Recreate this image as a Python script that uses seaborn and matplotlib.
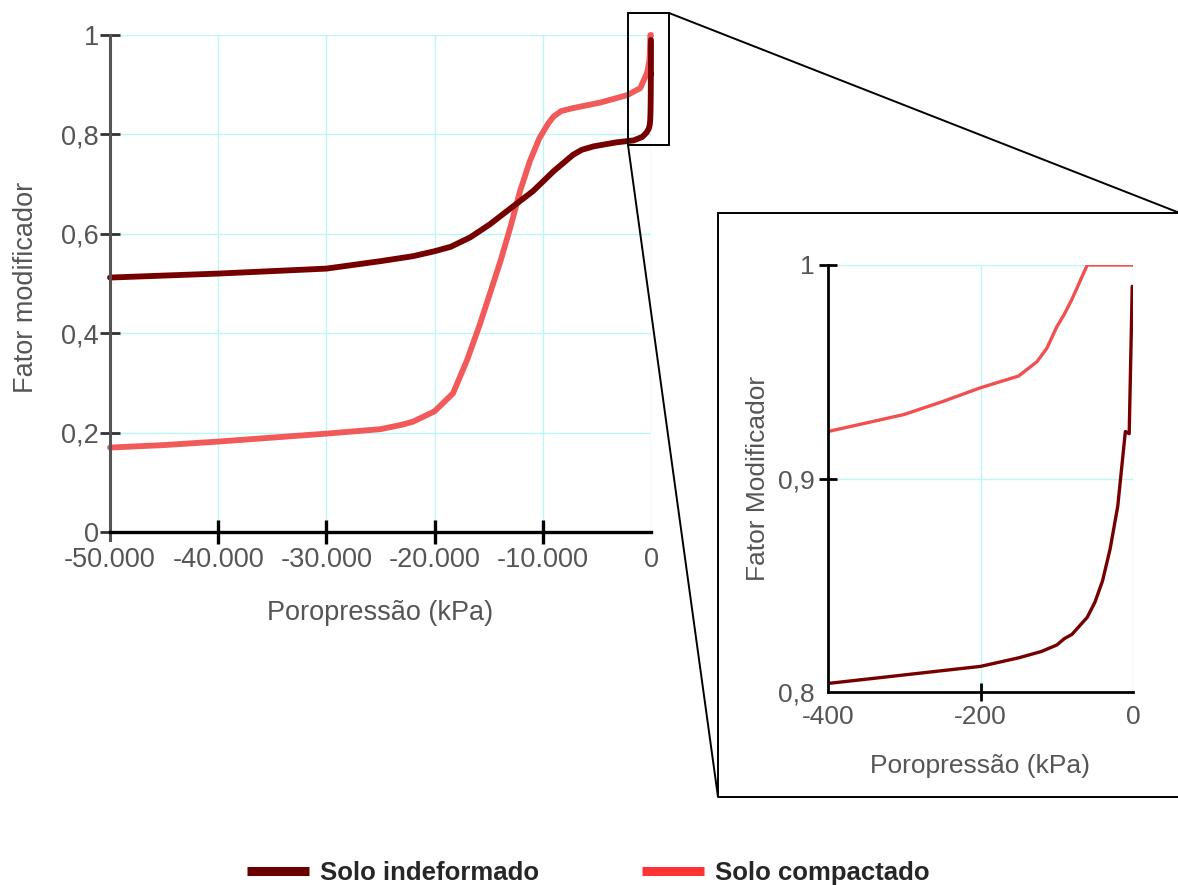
import matplotlib
matplotlib.use("Agg")
import matplotlib.pyplot as plt
import seaborn as sns
import numpy as np
import pandas as pd
from matplotlib.lines import Line2D
from matplotlib.patches import Rectangle
from matplotlib.ticker import FuncFormatter, FixedLocator

# ---------------- data ----------------
und_x = [-50000, -45000, -40000, -35000, -30000, -25000, -22000, -20000, -18500, -16700,
         -14900, -12700, -10900, -9000, -7200, -6400, -5300, -3200, -1600, -800, -400, -350, -300,
         -250, -200, -150, -120, -100, -90, -80, -70, -60, -50, -40, -30, -20, -10, -5, -1]
und_y = [0.512, 0.516, 0.520, 0.525, 0.530, 0.545, 0.555, 0.565, 0.574, 0.593,
         0.619, 0.656, 0.686, 0.726, 0.759, 0.769, 0.776, 0.784, 0.788, 0.795, 0.804, 0.806, 0.808,
         0.810, 0.812, 0.816, 0.819, 0.822, 0.825, 0.827, 0.831, 0.835, 0.842, 0.852, 0.867, 0.887,
         0.922, 0.921, 0.990]

comp_x = [-50000, -45000, -40000, -35000, -30000, -25000, -23000, -22000, -20000, -18300,
          -17000, -15800, -14900, -13900, -13000, -12100, -11200, -10300, -9500, -9000, -8300,
          -7200, -4700, -2200, -1000, -400, -350, -300, -250, -200, -150, -126, -113, -100,
          -90, -80, -70, -60, 0]
comp_y = [0.170, 0.175, 0.182, 0.190, 0.198, 0.207, 0.216, 0.222, 0.243, 0.279,
          0.346, 0.419, 0.479, 0.546, 0.613, 0.686, 0.746, 0.793, 0.822, 0.836, 0.847,
          0.853, 0.864, 0.879, 0.893, 0.922, 0.926, 0.930, 0.936, 0.9425, 0.948, 0.9547, 0.961, 0.971,
          0.977, 0.984, 0.992, 1.0, 1.0]

series_names = ["Solo indeformado", "Solo compactado"]
main_xticks = [-50000, -40000, -30000, -20000, -10000, 0]
main_yticks = [0, 0.2, 0.4, 0.6, 0.8, 1.0]
inset_xticks = [-400, -200, 0]
inset_yticks = [0.8, 0.9, 1.0]

# ---------------- style ----------------
sns.set_theme(style="white")
plt.rcParams["font.family"] = ["Liberation Sans", "DejaVu Sans"]

DARK = "#760000"
RED = "#f25050"
GRID = "#bdf6f6"
TXT = "#555555"

W, H = 1178, 885
fig = plt.figure(figsize=(W / 100, H / 100), dpi=100)

def px(x0, y0, x1, y1):
    return [x0 / W, 1 - y1 / H, (x1 - x0) / W, (y1 - y0) / H]

df_und = pd.DataFrame({"x": und_x, "y": und_y})
df_comp = pd.DataFrame({"x": comp_x, "y": comp_y})

def fmt_num(v, pos=None):
    if abs(v - round(v)) < 1e-9:
        s = f"{int(round(v)):,}".replace(",", ".")
    else:
        s = f"{v:g}".replace(".", ",")
    return s

# ---------------- main axes ----------------
ax = fig.add_axes(px(110, 35, 651, 540))
ax.set_xlim(-50000, 0)
ax.set_ylim(-0.016, 1.0)
sns.lineplot(data=df_comp, x="x", y="y", ax=ax, color=RED, lw=4.2, sort=False,
             estimator=None, alpha=0.95, clip_on=False, solid_capstyle="round")
sns.lineplot(data=df_und, x="x", y="y", ax=ax, color=DARK, lw=4.2, sort=False,
             estimator=None, clip_on=False, solid_capstyle="round")

ax.xaxis.set_major_locator(FixedLocator(main_xticks))
ax.yaxis.set_major_locator(FixedLocator(main_yticks))
ax.xaxis.set_major_formatter(FuncFormatter(fmt_num))
ax.yaxis.set_major_formatter(FuncFormatter(fmt_num))
for v in main_xticks[1:]:
    ax.plot([v, v], [0, 1], color=GRID, lw=1, zorder=0)
for v in main_yticks[1:]:
    ax.plot([-50000, 0], [v, v], color=GRID, lw=1, zorder=0)
for s in ["top", "right"]:
    ax.spines[s].set_visible(False)
ax.spines["bottom"].set_position(("data", 0))
ax.spines["bottom"].set_color("black")
ax.spines["bottom"].set_linewidth(2.4)
ax.spines["left"].set_color("#555555")
ax.spines["left"].set_linewidth(2.2)
ax.tick_params(axis="x", direction="inout", length=17, width=2.4, color="black",
               labelsize=19.5, labelcolor=TXT, pad=2, bottom=True)
ax.tick_params(axis="y", direction="inout", length=14, width=2, color="#333333",
               labelsize=19.5, labelcolor=TXT, pad=1, left=True)
for i, t in enumerate(ax.xaxis.get_major_ticks()):
    if main_xticks[i] in (-50000, 0):
        t.tick1line.set_visible(False)
ax.set_xlabel("Poropressão (kPa)", fontsize=19.5, color=TXT, labelpad=20)
ax.set_ylabel("Fator modificador", fontsize=19.5, color=TXT, labelpad=16)
ax.set_facecolor("none")

# ---------------- inset axes ----------------
ax2 = fig.add_axes(px(828, 265, 1133, 692))
ax2.set_xlim(-400, 0)
ax2.set_ylim(0.8, 1.0)
sns.lineplot(data=df_comp, x="x", y="y", ax=ax2, color=RED, lw=2.4, sort=False,
             estimator=None, clip_on=True)
sns.lineplot(data=df_und, x="x", y="y", ax=ax2, color=DARK, lw=2.4, sort=False,
             estimator=None, clip_on=True)
ax2.xaxis.set_major_locator(FixedLocator(inset_xticks))
ax2.yaxis.set_major_locator(FixedLocator(inset_yticks))
ax2.xaxis.set_major_formatter(FuncFormatter(fmt_num))
ax2.yaxis.set_major_formatter(FuncFormatter(fmt_num))
for v in [-200, 0]:
    ax2.plot([v, v], [0.8, 1.0], color=GRID, lw=1, zorder=0)
for v in [0.9, 1.0]:
    ax2.plot([-400, 0], [v, v], color=GRID, lw=1, zorder=0)
for s in ["top", "right"]:
    ax2.spines[s].set_visible(False)
for s in ["left", "bottom"]:
    ax2.spines[s].set_color("black")
    ax2.spines[s].set_linewidth(2)
ax2.tick_params(axis="both", direction="inout", length=13, width=2, color="black",
                labelsize=19, labelcolor=TXT, pad=3, bottom=True, left=True)
for i, t in enumerate(ax2.xaxis.get_major_ticks()):
    if inset_xticks[i] in (-400, 0):
        t.tick1line.set_visible(False)
ax2.yaxis.get_major_ticks()[0].tick1line.set_visible(False)
ax2.set_xlabel("Poropressão (kPa)", fontsize=19, color=TXT, labelpad=18)
ax2.set_ylabel("Fator Modificador", fontsize=19, color=TXT, labelpad=6)
ax2.set_facecolor("none")

# ---------------- zoom box and connectors ----------------
fig.add_artist(Rectangle((628 / W, 1 - 145 / H), 41 / W, 132 / H, transform=fig.transFigure,
                         fill=False, ec="black", lw=1.4))
fig.add_artist(Rectangle((718 / W, 1 - 797 / H), 480 / W, 584 / H, transform=fig.transFigure,
                         fill=False, ec="black", lw=1.4, clip_on=False))
fig.add_artist(Line2D([669 / W, 1190 / W], [1 - 13 / H, 1 - 217 / H], transform=fig.transFigure,
                      color="black", lw=1.4))
fig.add_artist(Line2D([628 / W, 718 / W], [1 - 145 / H, 1 - 797 / H], transform=fig.transFigure,
                      color="black", lw=1.4))

# ---------------- legend ----------------
leg_prop = {"family": ["Liberation Sans", "DejaVu Sans"], "weight": "bold", "size": 18.5}
handles = [Line2D([], [], color="#6b0000", lw=6.5, solid_capstyle="butt"),
           Line2D([], [], color="#ff3333", lw=6.5, solid_capstyle="butt")]
fig.legend(handles, series_names, loc="center", bbox_to_anchor=(0.4995, 1 - 873 / H), ncol=2,
           frameon=False, prop=leg_prop, handlelength=2.4, handletextpad=0.45,
           columnspacing=4.0)

fig.savefig("out.png", dpi=100, facecolor="white")
